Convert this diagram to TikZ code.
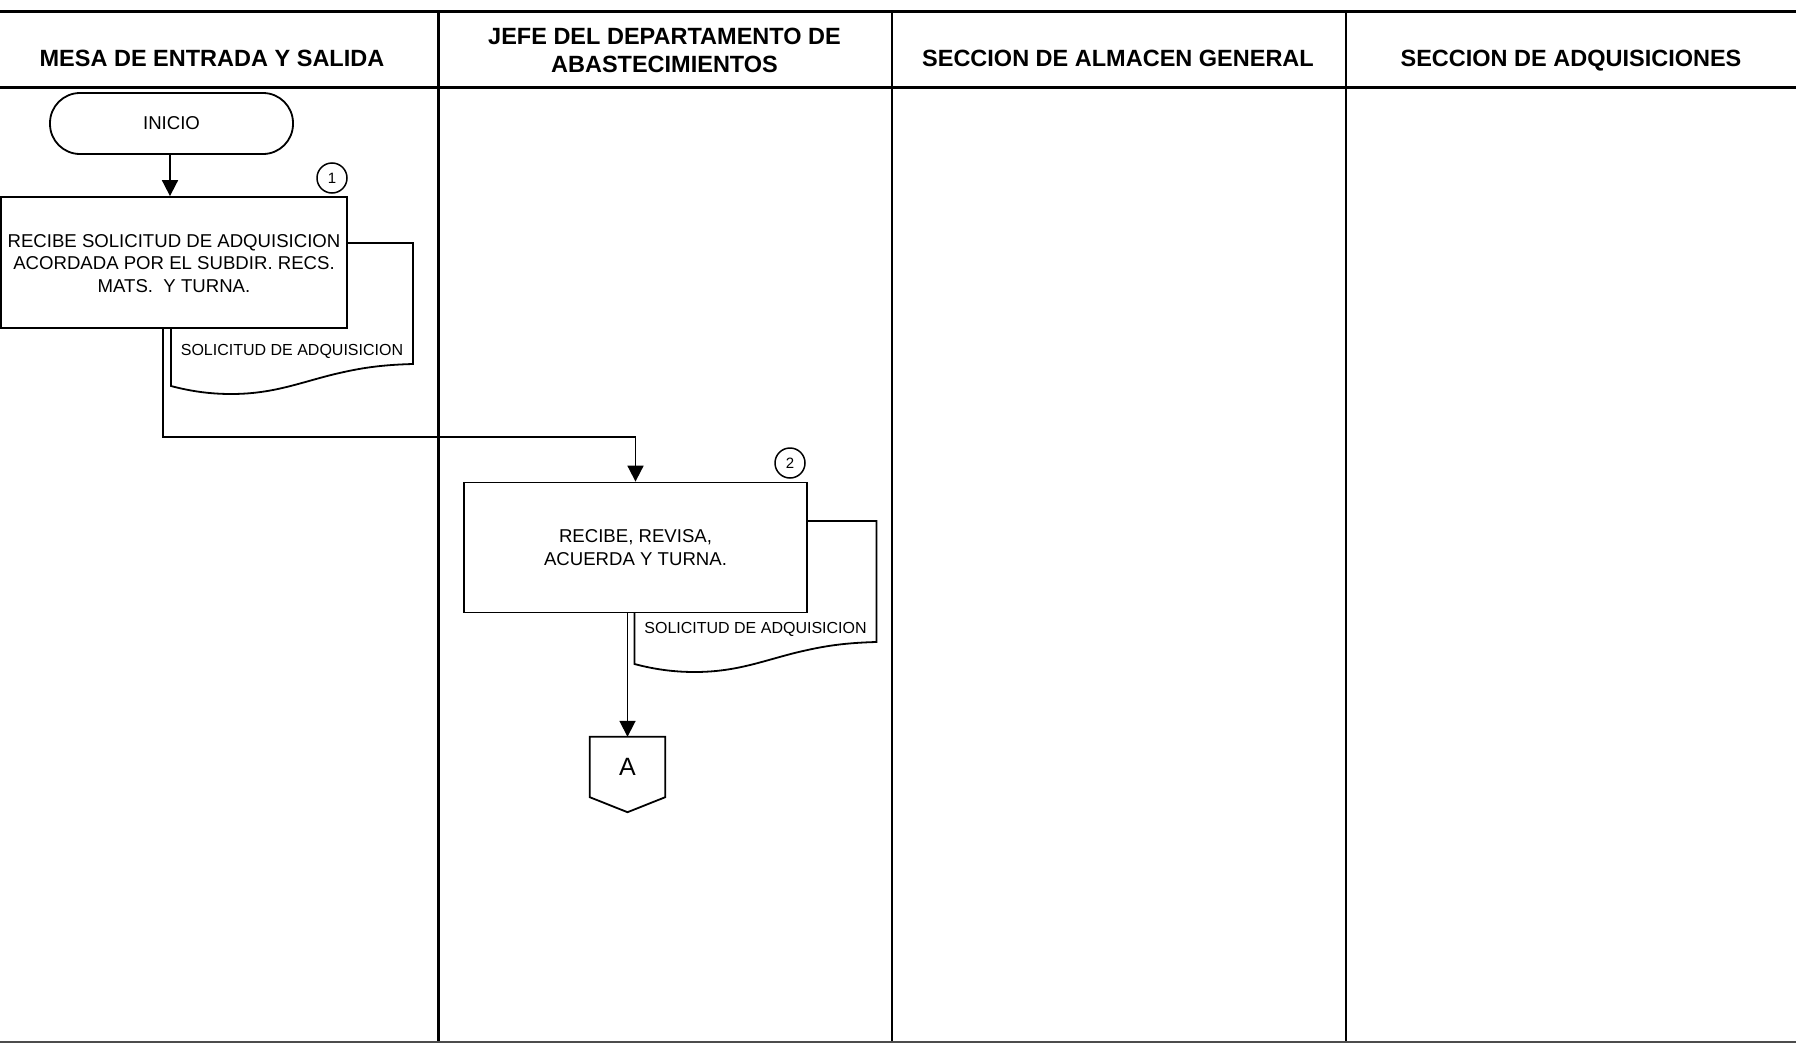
\documentclass[tikz,border=0pt]{standalone}
\usepackage{fontspec}
\setmainfont{Liberation Sans}
\usetikzlibrary{arrows.meta,calc}

\tikzset{
  hdrline/.style={line width=3pt},
  laneline/.style={line width=2.2pt},
  hdr/.style={font=\fontsize{23.5}{28.5}\selectfont\bfseries, align=center, inner sep=0pt},
  proc/.style={draw, line width=1.8pt, fill=white, inner sep=0pt, align=center,
    font=\fontsize{18.6}{22.7}\selectfont},
  term/.style={draw, line width=1.8pt, fill=white, rounded corners=30pt, inner sep=0pt,
    minimum width=243pt, minimum height=61pt, font=\fontsize{18.6}{22.7}\selectfont},
  flow/.style={line width=1.8pt, -{Triangle[width=16pt,length=16pt]}},
  stepnum/.style={draw, circle, line width=1.5pt, minimum size=30pt, inner sep=0pt,
    font=\fontsize{15}{17}\selectfont},
  doctext/.style={font=\fontsize{16}{18}\selectfont, inner sep=0pt},
  docline/.style={line width=1.8pt, fill=white},
  offpage/.style={inner sep=0pt, minimum width=75pt, minimum height=60pt,
    font=\fontsize{25}{28}\selectfont}
}

\begin{document}
\begin{tikzpicture}[x=1pt,y=-1pt]
  \useasboundingbox[fill=white] (0,0) rectangle (1796,1044);

  % swimlane frame
  \draw[hdrline] (0,11) -- (1796,11);
  \draw[hdrline] (0,87) -- (1796,87);
  \draw[laneline] (438.5,11) -- (438.5,1042);
  \draw[laneline] (892,11) -- (892,1042);
  \draw[laneline] (1346,11) -- (1346,1042);
  \draw[line width=2pt, black!70] (0,1042) -- (1796,1042);

  % lane titles
  \node[hdr, anchor=base] (h1) at (212,66.4) {MESA DE ENTRADA Y SALIDA};
  \node[hdr] (h2) at (664.5,50.5) {JEFE DEL DEPARTAMENTO DE\\ABASTECIMIENTOS};
  \node[hdr, anchor=base] (h3) at (1118,66.4) {SECCION DE ALMACEN GENERAL};
  \node[hdr, anchor=base] (h4) at (1571,66.4) {SECCION DE ADQUISICIONES};

  % documents (drawn first so the process boxes overlap them)
  \begin{scope}[shift={(171,243)}]
    \draw[docline] (0,0) -- (242,0) -- (242,121)
      .. controls (205,122) and (185,126) .. (160,132)
      .. controls (125,141) and (100,151) .. (60,151)
      .. controls (35,151) and (15,147) .. (0,143) -- cycle;
    \node[doctext] (d1) at (121,108.5) {SOLICITUD DE ADQUISICION};
  \end{scope}
  \begin{scope}[shift={(634.5,521)}]
    \draw[docline] (0,0) -- (242,0) -- (242,121)
      .. controls (205,122) and (185,126) .. (160,132)
      .. controls (125,141) and (100,151) .. (60,151)
      .. controls (35,151) and (15,147) .. (0,143) -- cycle;
    \node[doctext] (d2) at (121,108.5) {SOLICITUD DE ADQUISICION};
  \end{scope}

  % flow nodes
  \node[term] (ini) at (171.5,123.5) {INICIO};
  \node[proc, minimum width=346pt, minimum height=131pt] (b1) at (174,262.5)
    {\rule{0pt}{15pt}RECIBE SOLICITUD DE ADQUISICION\\ACORDADA POR EL SUBDIR. RECS.\\MATS.\ \ Y TURNA.};
  \node[proc, minimum width=343pt, minimum height=130pt] (b2) at (635.5,547.5)
    {RECIBE, REVISA,\\ACUERDA Y TURNA.};
  \node[offpage] (A) at (627.5,767) {\raisebox{-2pt}{A}};
  \draw[line width=1.8pt] (A.north west) -- (A.north east) -- (A.south east)
    -- ([yshift=-15pt]A.south) -- (A.south west) -- cycle;

  % step numbers
  \node[stepnum] (n1) at (332,178) {1};
  \node[stepnum] (n2) at (790,463) {2};

  % connectors
  \draw[flow] (ini.south -| 170,0) -- (b1.north -| 170,0);
  \draw[flow] ([xshift=-11pt]b1.south) -- ++(0,108) -| (b2.north);
  \draw[flow] (b2.south -| A.north) -- (A.north);
\end{tikzpicture}
\end{document}
